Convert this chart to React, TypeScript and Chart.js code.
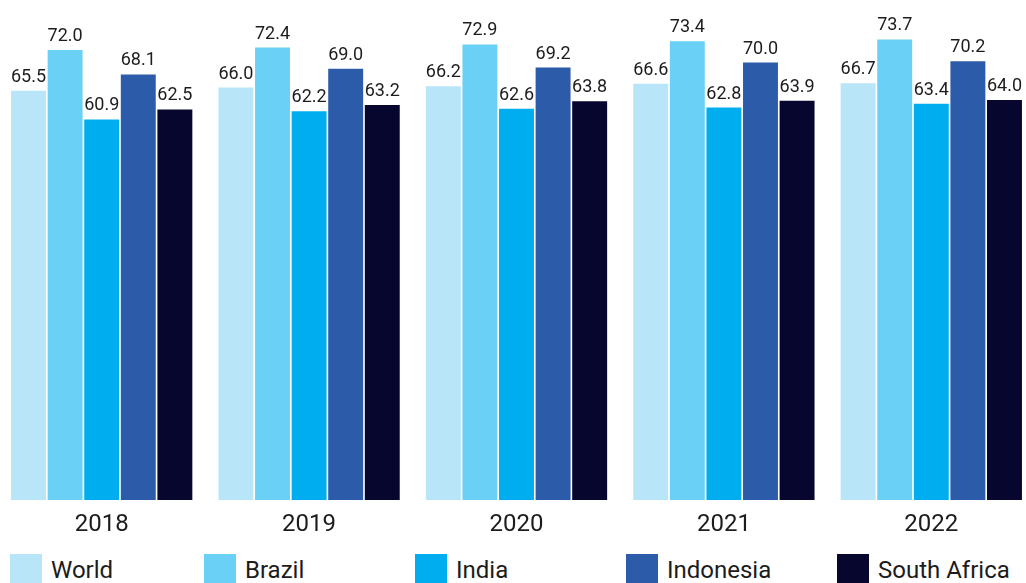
import React, { useEffect, useRef } from "react";
import { Chart, registerables } from "chart.js";

Chart.register(...registerables);

const years = ["2018", "2019", "2020", "2021", "2022"];
const seriesNames = ["World", "Brazil", "India", "Indonesia", "South Africa"];
const world = [65.5, 66.0, 66.2, 66.6, 66.7];
const brazil = [72.0, 72.4, 72.9, 73.4, 73.7];
const india = [60.9, 62.2, 62.6, 62.8, 63.4];
const indonesia = [68.1, 69.0, 69.2, 70.0, 70.2];
const southAfrica = [62.5, 63.2, 63.8, 63.9, 64.0];
const colors = ["#b9e5f9", "#6bd0f6", "#00aeef", "#2c5ca9", "#06062e"];

const FONT = "Roboto, 'Noto Sans', sans-serif";
const TEXT = "#1c1c1c";

const valueLabels = {
  id: "valueLabels",
  afterDatasetsDraw(chart: any) {
    const ctx = chart.ctx;
    ctx.save();
    ctx.font = `18px ${FONT}`;
    ctx.fillStyle = TEXT;
    ctx.textAlign = "center";
    ctx.textBaseline = "alphabetic";
    chart.data.datasets.forEach((ds: any, i: number) => {
      const meta = chart.getDatasetMeta(i);
      meta.data.forEach((bar: any, j: number) => {
        ctx.fillText(Number(ds.data[j]).toFixed(1), bar.x, bar.y - 9);
      });
    });
    ctx.restore();
  },
};

export default function App() {
  const ref = useRef<HTMLCanvasElement>(null);
  useEffect(() => {
    document.body.style.margin = "0";
    const all = [world, brazil, india, indonesia, southAfrica];
    const chart = new Chart(ref.current!, {
      type: "bar",
      data: {
        labels: years,
        datasets: all.map((d, i) => ({
          label: seriesNames[i],
          data: d,
          backgroundColor: colors[i],
          borderWidth: 0,
          barPercentage: 0.955,
          categoryPercentage: 0.882,
        })),
      },
      options: {
        animation: false,
        responsive: false,
        maintainAspectRatio: false,
        layout: { padding: 0 },
        plugins: {
          legend: { display: false },
          tooltip: { enabled: false },
        },
        scales: {
          y: { display: false, min: 0, max: 80 },
          x: {
            grid: { display: false },
            border: { display: false },
            ticks: {
              color: TEXT,
              font: { family: FONT, size: 24 },
              padding: 3,
            },
            afterFit(scale: any) {
              scale.height = 40;
            },
          },
        },
      },
      plugins: [valueLabels],
    });
    return () => chart.destroy();
  }, []);

  const legendLeft = [10, 204, 415, 626, 837];
  return (
    <div style={{ position: "relative", width: 1026, height: 583, overflow: "hidden", fontFamily: FONT }}>
      <canvas
        ref={ref}
        width={1037}
        height={540}
        style={{ position: "absolute", left: -2, top: 0, width: 1037, height: 540 }}
      />
      {seriesNames.map((n, i) => (
        <div
          key={n}
          style={{
            position: "absolute",
            left: legendLeft[i],
            top: 554,
            display: "flex",
            alignItems: "center",
            height: 30,
          }}
        >
          <span style={{ display: "inline-block", width: 32, height: 30, background: colors[i] }} />
          <span style={{ marginLeft: 9, fontSize: 24, color: TEXT, lineHeight: "30px", whiteSpace: "nowrap", position: "relative", top: 1 }}>{n}</span>
        </div>
      ))}
    </div>
  );
}
